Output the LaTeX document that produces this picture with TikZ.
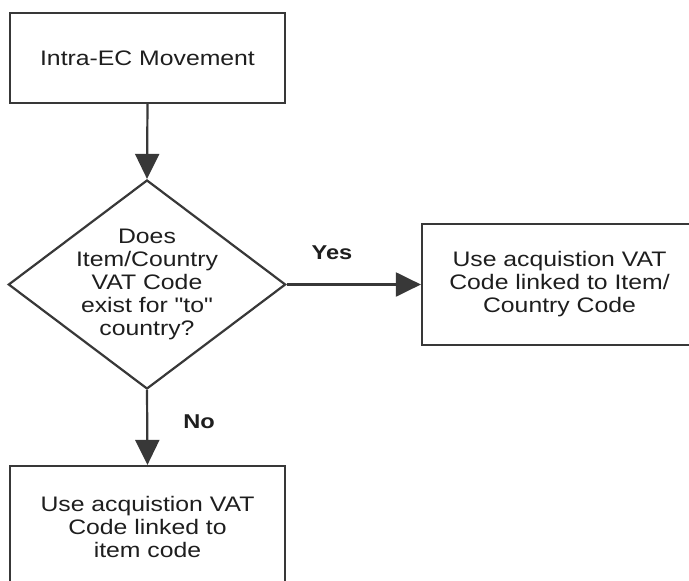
\documentclass[tikz,border=0pt]{standalone}
\usepackage{fontspec}
\setmainfont{Liberation Sans}[FakeStretch=1.18, Ligatures=TeXOff]
\usetikzlibrary{shapes.geometric,arrows.meta}
\definecolor{linec}{HTML}{383838}
\definecolor{textc}{HTML}{1E1E1E}
\tikzset{
  box/.style={draw=linec, line width=2.2pt, minimum width=275pt, minimum height=90pt, inner sep=0pt, align=center, text=textc},
  bigbox/.style={box, minimum height=121pt},
  decision/.style={diamond, draw=linec, line width=2.2pt, minimum width=274pt, minimum height=209pt, inner sep=-3pt, aspect=1.35, align=center, text=textc},
  conn/.style={draw=linec, line width=2.2pt, -{Triangle[length=25pt,width=24pt]}},
  lbl/.style={font=\bfseries\fontsize{20}{22}\selectfont, text=textc}
}
\begin{document}
\begin{tikzpicture}[x=1pt,y=-1pt, every node/.style={font=\fontsize{21}{23}\selectfont}]
\clip (0,0) rectangle (689,581);
\fill[white] (0,0) rectangle (689,581);
\node[box] (start) at (147.5,58) {Intra-EC Movement};
\node[decision] (dec) at (147,284.5) {Does\\Item/Country\\VAT Code\\exist for "to"\\country?};
\node[bigbox] (yes) at (559.5,284.5) {Use acquistion VAT\\Code linked to Item/\\Country Code};
\node[bigbox] (no) at (147.5,526.5) {Use acquistion VAT\\Code linked to\\item code};
\draw[conn] (start.south) -- (dec.north);
\draw[conn] (dec.east) -- (yes.west);
\draw[conn] (dec.south) -- (no.north);
\node[lbl] (yeslbl) at (332,253) {Yes};
\node[lbl] (nolbl) at (199,422) {No};
\end{tikzpicture}
\end{document}
